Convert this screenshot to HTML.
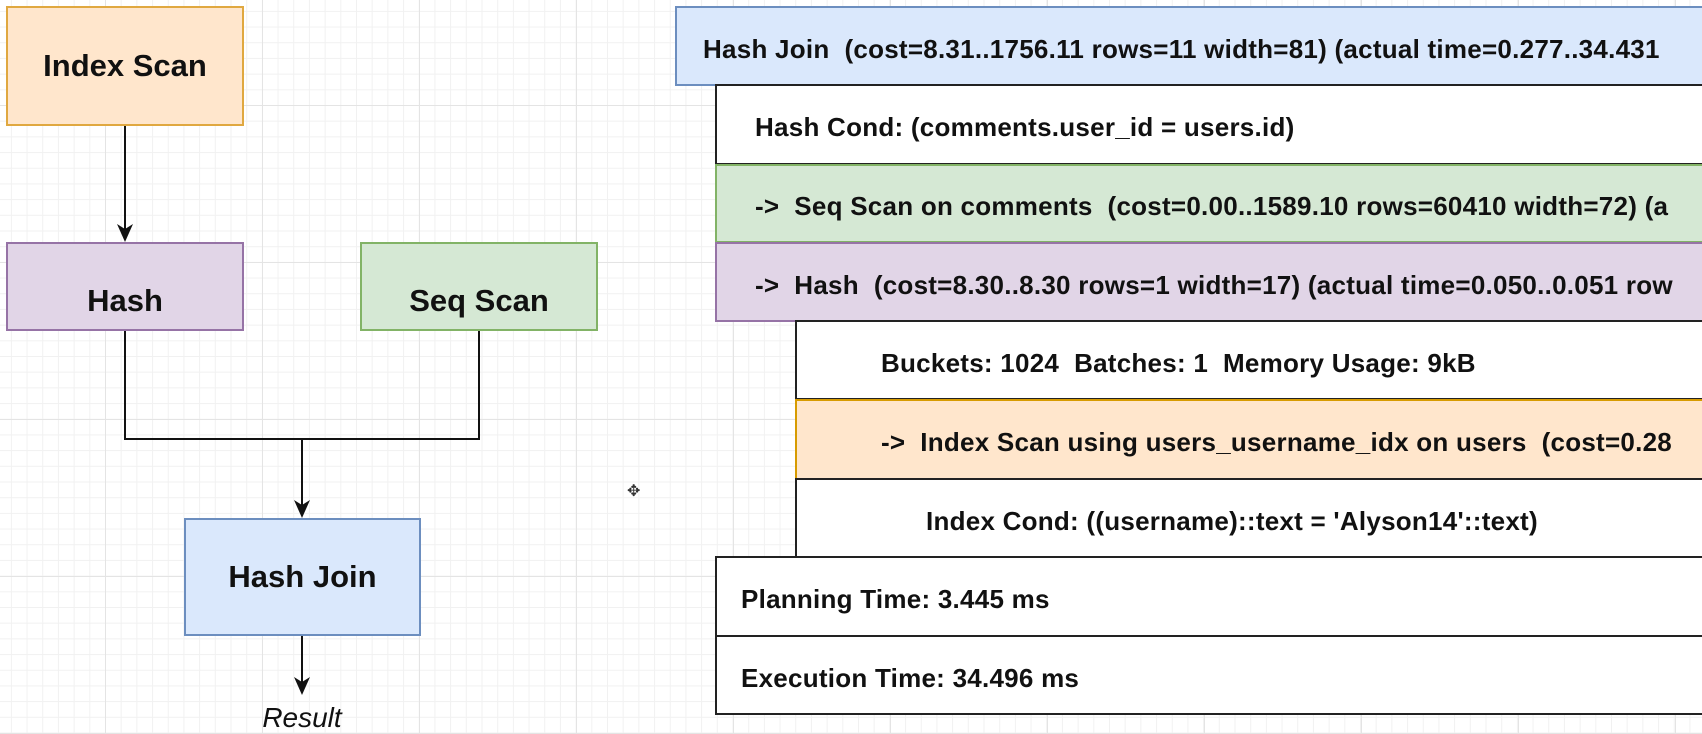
<!DOCTYPE html>
<html><head><meta charset="utf-8"><style>
body{margin:0;width:1702px;height:734px;overflow:hidden;position:relative;font-family:"Liberation Sans",Arial,sans-serif;
background-color:#fff;
background-image:linear-gradient(#e4e4e4 1px,transparent 1px),linear-gradient(90deg,#e4e4e4 1px,transparent 1px),linear-gradient(#f1f1f1 1px,transparent 1px),linear-gradient(90deg,#f1f1f1 1px,transparent 1px);
background-size:157px 157px,157px 157px,15.7px 15.7px,15.7px 15.7px;background-position:105px 105px,105px 105px,105px 105px,105px 105px;}
.b{position:absolute;box-sizing:border-box;border:2px solid;display:flex;align-items:center;justify-content:center;font-weight:bold;font-size:31px;color:#111}
.r{position:absolute;box-sizing:border-box;border:2px solid #222;background:#fff;font-weight:bold;font-size:26px;letter-spacing:0.25px;color:#111;white-space:pre;display:flex;align-items:center;overflow:hidden;padding-top:6px}
</style></head><body>
<div class="b" style="left:6px;top:6px;width:238px;height:120px;background:#ffe6cc;border-color:#e0a840">Index Scan</div>
<div class="b" style="left:6px;top:242px;width:238px;height:89px;background:#e1d5e7;border-color:#9673a6;padding-top:28px">Hash</div>
<div class="b" style="left:360px;top:242px;width:238px;height:89px;background:#d5e8d4;border-color:#82b366;padding-top:28px">Seq Scan</div>
<div class="b" style="left:184px;top:518px;width:237px;height:118px;background:#dae8fc;border-color:#6c8ebf">Hash Join</div>
<svg style="position:absolute;left:0;top:0" width="1702" height="734">
<g stroke="#111" stroke-width="2" fill="none">
<path d="M125 126V230"/><path d="M125 331V439H479V331"/><path d="M302 439V505"/><path d="M302 636V683"/>
</g>
<g fill="#111">
<path d="M117 224L125 242L133 224L125 229Z"/><path d="M294 500L302 518L310 500L302 505Z"/><path d="M294 677L302 695L310 677L302 682Z"/>
</g>
<text x="302" y="727" font-family="Liberation Sans,sans-serif" font-style="italic" font-size="28" text-anchor="middle" fill="#111">Result</text>
</svg>
<div class="r" style="left:675px;top:6px;width:1040px;height:80px;background:#dae8fc;border-color:#6c8ebf;padding-left:26px">Hash Join  (cost=8.31..1756.11 rows=11 width=81) (actual time=0.277..34.431</div>
<div class="r" style="left:715px;top:84px;width:1000px;height:81px;padding-left:38px">Hash Cond: (comments.user_id = users.id)</div>
<div class="r" style="left:715px;top:164px;width:1000px;height:79px;background:#d5e8d4;border-color:#82b366;padding-left:38px">-&gt;  Seq Scan on comments  (cost=0.00..1589.10 rows=60410 width=72) (a</div>
<div class="r" style="left:715px;top:242px;width:1000px;height:80px;background:#e1d5e7;border-color:#9673a6;padding-left:38px">-&gt;  Hash  (cost=8.30..8.30 rows=1 width=17) (actual time=0.050..0.051 row</div>
<div class="r" style="left:795px;top:320px;width:920px;height:80px;padding-left:84px">Buckets: 1024  Batches: 1  Memory Usage: 9kB</div>
<div class="r" style="left:795px;top:399px;width:920px;height:81px;background:#ffe6cc;border-color:#d79b00;padding-left:84px">-&gt;  Index Scan using users_username_idx on users  (cost=0.28</div>
<div class="r" style="left:795px;top:478px;width:920px;height:80px;padding-left:129px">Index Cond: ((username)::text = 'Alyson14'::text)</div>
<div class="r" style="left:715px;top:556px;width:1000px;height:81px;padding-left:24px">Planning Time: 3.445 ms</div>
<div class="r" style="left:715px;top:635px;width:1000px;height:80px;padding-left:24px">Execution Time: 34.496 ms</div>
<div style="position:absolute;left:627px;top:481px;font-size:16px;color:#333">✥</div>
</body></html>
